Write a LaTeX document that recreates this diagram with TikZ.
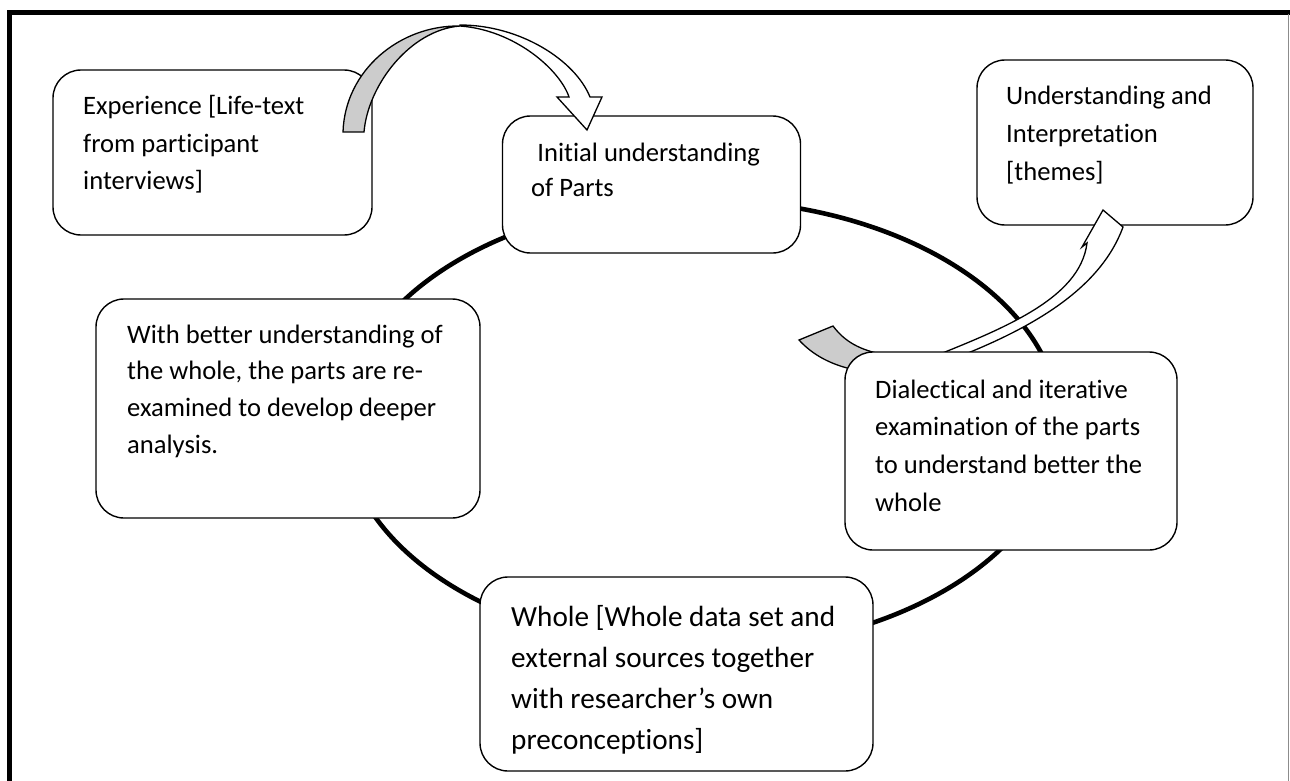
\documentclass[tikz,border=0pt]{standalone}
\usepackage{fontspec}
\setmainfont{Carlito}[RawFeature={-liga;-clig;-calt;-dlig}]
\begin{document}
\begin{tikzpicture}[x=1pt,y=-1pt,
  box/.style={draw=black, line width=1.4pt, fill=white, rounded corners=28pt, rectangle, inner sep=0pt},
  txt/.style={anchor=base west, inner sep=0pt, font=\fontsize{26.6}{#1}\selectfont},
  txt/.default=37.5,
  bigtxt/.style={anchor=base west, inner sep=0pt, font=\fontsize{29.2}{41}\selectfont},
  ring/.style={draw=black, line width=4.6pt},
  frameline/.style={draw=black, line width=5pt},
  blockarrow/.style={draw=black, line width=1.3pt, line join=miter, fill=white},
  backface/.style={draw=black, line width=1.3pt, line join=miter, fill=black!20}
]
\useasboundingbox[fill=white] (0,0) rectangle (1290,781);
% frame
\draw[frameline] (9.5,781) -- (9.5,12.5) -- (1290,12.5);
\draw[draw=black!45, line width=1.5pt] (1288.5,14) -- (1288.5,781);
% cycle
\draw[ring] (702,425) ellipse [x radius=358, y radius=225];
% boxes
\node[box, minimum width=319pt, minimum height=165pt] (exp) at (212.5,152.5) {};
\node[box, minimum width=298pt, minimum height=137pt] (init) at (651.5,184.5) {};
\node[box, minimum width=276pt, minimum height=165pt] (interp) at (1115,142.5) {};
\node[box, minimum width=384pt, minimum height=219pt] (better) at (288,408.5) {};
\node[box, minimum width=393pt, minimum height=194pt] (whole) at (676.5,674) {};
% curved arrow from experience to initial understanding
\draw[blockarrow] (460,25) .. controls (520,25) and (575,60) .. (590,97)
  -- (602,97) -- (587,130) -- (557,97) -- (569,97)
  .. controls (560,70) and (515,30) .. (460,26) -- cycle;
\draw[backface] (343,132) -- (364,132) .. controls (368,85) and (410,30) .. (460,26)
  .. controls (400,25) and (345,70) .. (343,132) -- cycle;
% curved arrow towards understanding and interpretation
\draw[backface] (799,340) -- (833,326) .. controls (845,342) and (860,350) .. (885,355)
  -- (880,378) -- (847,368) .. controls (825,362) and (810,352) .. (799,340) -- cycle;
\draw[blockarrow] (920,362) .. controls (1000,330) and (1080,300) .. (1087,243)
  -- (1082,247) -- (1103,210) -- (1123,227)
  .. controls (1100,290) and (1030,330) .. (945,362) -- cycle;
\node[box, minimum width=332pt, minimum height=198pt] (dial) at (1011,451) {};
% texts
\node[txt] (texp) at (83,115) {\parbox[t]{400pt}{\raggedright Experience [Life-text\\from participant\\interviews]}};
\node[txt=35.5] (tinit) at (531,161) {\parbox[t]{400pt}{\raggedright\hspace*{6.2pt}Initial understanding\\of Parts}};
\node[txt=38] (tinterp) at (1006,105) {\parbox[t]{400pt}{\raggedright Understanding and\\Interpretation\\{[themes]}}};
\node[txt=36.7] (tbetter) at (127,343) {\parbox[t]{400pt}{\raggedright With better understanding of\\the whole, the parts are re-\\examined to develop deeper\\analysis.}};
\node[txt=37.7] (tdial) at (875,398) {\parbox[t]{400pt}{\raggedright Dialectical and iterative\\examination of the parts\\to understand better the\\whole}};
\node[bigtxt] (twhole) at (511,626) {\parbox[t]{400pt}{\raggedright Whole [Whole data set and\\external sources together\\with researcher’s own\\preconceptions]}};
\end{tikzpicture}
\end{document}
